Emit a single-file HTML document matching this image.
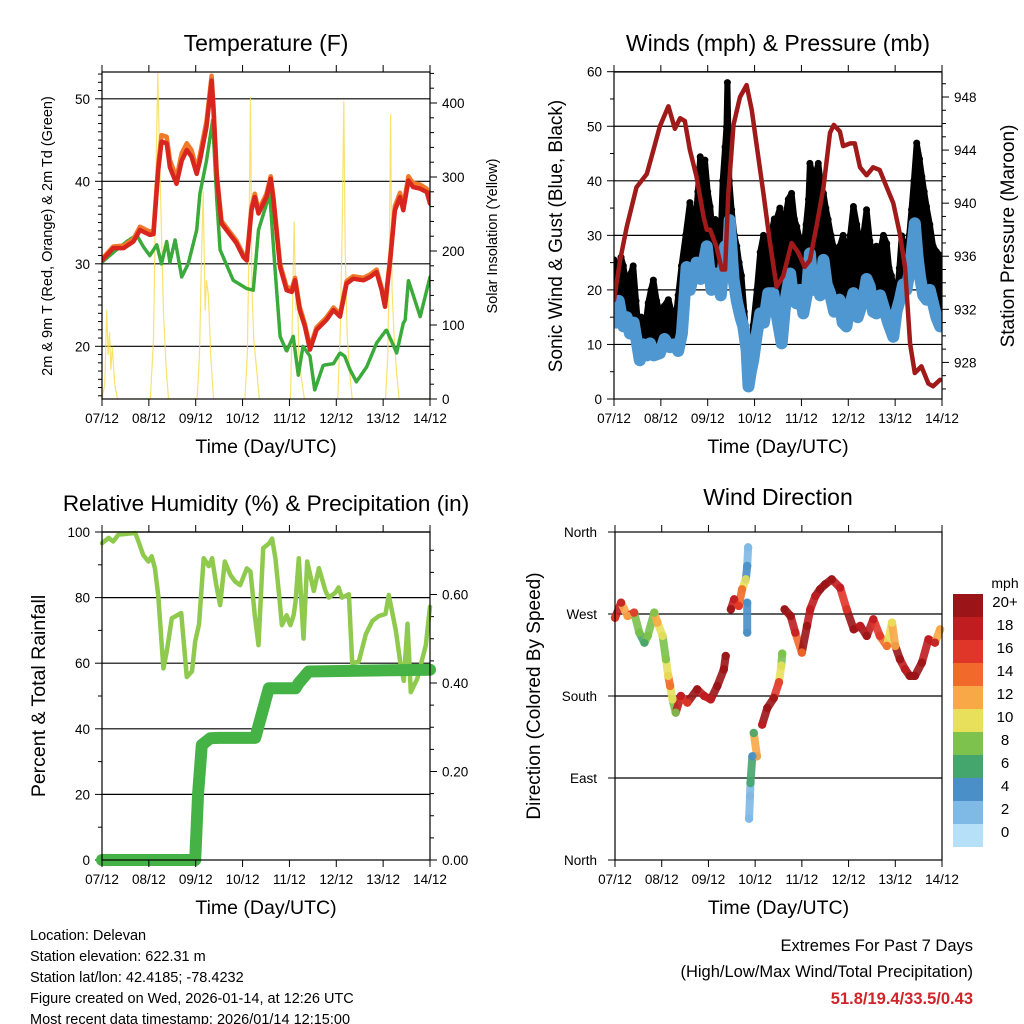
<!DOCTYPE html>
<html><head><meta charset="utf-8"><style>
body{margin:0;background:#fff}
svg{display:block;font-family:"Liberation Sans",sans-serif}
</style></head><body>
<svg id="c" width="1024" height="1024" viewBox="0 0 1024 1024" xmlns="http://www.w3.org/2000/svg"></svg>
<script>
// ---------- data ----------
const dayLabels=["07/12","08/12","09/12","10/12","11/12","12/12","13/12","14/12"];
const tempTimes=[0,0.24,0.46,0.67,0.81,1.02,1.10,1.20,1.27,1.38,1.45,1.59,1.70,1.81,1.91,2.02,2.09,2.23,2.34,2.38,2.45,2.55,2.87,3.02,3.09,3.19,3.26,3.34,3.51,3.60,3.66,3.80,3.94,4.05,4.12,4.22,4.33,4.44,4.58,4.79,4.94,5.08,5.22,5.36,5.58,5.72,5.86,5.97,6.04,6.15,6.25,6.36,6.43,6.54,6.64,6.79,6.93,7.0];
const temp2m=[30.4,31.9,31.9,32.7,34.1,33.5,33.6,41.3,44.8,44.6,41.7,39.7,42.5,43.8,43.0,40.9,42.5,46.6,52.2,48.6,40.5,34.9,32.5,30.8,30.4,36.5,38.1,36.1,38.1,40.3,37.7,29.6,26.8,26.6,28.0,24.4,22.4,19.6,22.0,23.2,24.4,23.6,27.6,28.2,28.0,28.4,29.0,26.8,24.8,30.4,36.5,38.1,36.5,40.1,39.3,39.1,38.7,37.3];
const temp9m=[30.6,32.1,32.2,33.0,34.5,33.9,34.0,42.0,45.6,45.4,42.6,40.4,43.4,44.6,43.8,41.5,43.2,47.3,52.8,49.2,40.9,35.2,32.8,31.1,30.7,36.9,38.5,36.5,38.5,40.6,38.0,30.0,27.2,27.0,28.3,24.8,22.7,19.9,22.3,23.5,24.7,23.9,27.9,28.5,28.3,28.7,29.3,27.1,25.1,30.8,37.0,38.6,37.0,40.6,39.8,39.6,39.1,37.6];
const tdTimes=[0,0.31,0.53,0.74,0.88,1.02,1.17,1.27,1.38,1.45,1.56,1.70,1.84,2.02,2.09,2.23,2.36,2.45,2.52,2.80,3.09,3.23,3.34,3.58,3.69,3.80,3.94,4.08,4.19,4.29,4.44,4.54,4.72,4.94,5.08,5.18,5.29,5.43,5.65,5.86,6.07,6.29,6.43,6.47,6.54,6.79,7.0];
const dewpt=[30.2,31.7,32.7,33.5,32.1,31.0,32.3,30.0,32.7,30.2,32.9,28.4,30.0,34.1,38.5,42.5,47.4,37.7,31.7,28.0,27.0,26.8,34.1,38.5,29.6,21.2,19.4,21.2,16.5,20.0,18.8,14.7,17.7,17.9,19.2,18.8,17.2,15.7,17.5,20.4,22.0,19.2,22.8,23.2,28.0,23.6,28.4,30.4];
const solarTimes=[0,0.06,0.10,0.13,0.16,0.19,0.22,0.27,0.33,1.03,1.10,1.15,1.19,1.22,1.26,1.31,1.37,1.42,2.03,2.08,2.12,2.16,2.20,2.23,2.27,2.32,2.38,3.05,3.10,3.13,3.17,3.20,3.24,3.30,3.36,4.02,4.06,4.10,4.14,4.17,4.20,4.25,4.32,5.03,5.09,5.13,5.16,5.19,5.23,5.28,5.34,6.05,6.10,6.13,6.16,6.19,6.23,6.28,6.34,7.0];
const solar=[0,20,120,60,90,40,70,20,0,0,80,300,440,350,250,120,40,0,0,60,180,280,120,160,140,60,0,0,60,180,407,150,80,40,0,0,100,239,120,160,60,30,0,0,100,250,402,200,90,40,0,0,60,180,384,150,90,40,0,0];
// winds & pressure
const windTimes=[0,0.05,0.10,0.20,0.27,0.34,0.42,0.55,0.62,0.70,0.77,0.85,0.98,1.08,1.19,1.28,1.37,1.45,1.55,1.62,1.70,1.76,1.85,1.98,2.08,2.19,2.28,2.37,2.42,2.47,2.55,2.62,2.70,2.76,2.83,2.87,2.92,2.97,3.05,3.12,3.20,3.29,3.40,3.48,3.58,3.66,3.76,3.83,3.90,3.97,4.04,4.11,4.18,4.25,4.32,4.40,4.47,4.54,4.61,4.70,4.81,4.88,4.96,5.03,5.11,5.20,5.32,5.39,5.46,5.53,5.60,5.68,5.75,5.85,5.96,6.03,6.10,6.17,6.24,6.32,6.42,6.48,6.53,6.60,6.67,6.74,6.81,6.88,6.96];
const wind=[17,14,18,13.3,15,12,14,7.1,10,8,10.2,8,8.4,11,9.5,10,8.8,12,24.2,20,23,25,22,28,20,23,19,28,24,32.8,22,18,15,13.3,9,2.3,5,7.1,12,15.7,14,19.4,19.4,15,10.2,18,23,18,17.5,20,15.7,19,26.7,20,22.4,19,25.5,21,19.4,16,18.2,14,13.3,17,19.4,15,18.2,22,20.6,16,15.7,19,17,14,11.4,16,18.2,21,20,24,32.2,26,22.4,19,18.2,20,17.5,15,13.3];
const gustTimes=[0,0.05,0.09,0.15,0.20,0.26,0.31,0.36,0.41,0.47,0.52,0.58,0.63,0.68,0.73,0.79,0.84,0.91,0.98,1.07,1.16,1.23,1.30,1.37,1.44,1.53,1.62,1.68,1.73,1.79,1.84,1.89,1.94,2.00,2.05,2.11,2.16,2.22,2.27,2.32,2.37,2.40,2.42,2.46,2.51,2.57,2.62,2.67,2.72,2.78,2.83,2.87,2.90,2.94,2.97,3.05,3.12,3.19,3.26,3.31,3.36,3.42,3.47,3.54,3.61,3.67,3.72,3.79,3.85,3.90,3.97,4.04,4.10,4.15,4.18,4.27,4.36,4.42,4.47,4.52,4.57,4.63,4.68,4.75,4.82,4.89,4.96,5.04,5.11,5.18,5.25,5.32,5.39,5.46,5.53,5.60,5.67,5.75,5.82,5.87,5.92,5.98,6.03,6.09,6.14,6.19,6.24,6.30,6.35,6.40,6.46,6.52,6.57,6.62,6.67,6.74,6.81,6.88,6.96];
const gust=[25.5,23,22.6,26,24.4,21,19.6,23,24.4,18,12.8,15,9.7,14,17.6,20,21.8,18,15.7,17,18.2,16,13.3,19,24.4,30,36,33,31.8,38,44.4,40,43.8,38,35.3,30,32.9,31,28,40,46.2,49.9,58,40,34.7,30,28,25,22.6,16,10.4,8,8.6,11,13.5,20,26.9,30,28,26,30.5,33,32.9,35,30.5,34,36.6,37.7,33,31.6,29,26.9,32,36.6,43.2,40,43.2,39,37.7,35,32.9,30,28,27,28,30,25.5,30,35.3,32,28,30,34.7,29,25.5,28,26.7,30,28.5,24,22.6,20,18.3,24,29.9,28,26.3,30,34.7,40,46.9,44,40.8,38,35.3,32,28,27,26.3,25,24.4];
const presTimes=[0,0.13,0.27,0.48,0.70,0.84,0.98,1.16,1.30,1.41,1.51,1.62,1.76,1.91,1.98,2.05,2.19,2.30,2.37,2.44,2.55,2.69,2.83,2.94,3.04,3.19,3.33,3.47,3.61,3.79,3.93,4.07,4.18,4.32,4.47,4.61,4.69,4.82,4.89,5.04,5.14,5.25,5.39,5.53,5.67,5.82,5.96,6.10,6.21,6.32,6.42,6.56,6.71,6.81,6.96];
const pressure=[932.7,935.7,938.2,941.2,942.2,944.0,945.8,947.3,945.6,946.4,946.2,944.0,942.0,939.0,938.0,938.0,936.7,935.0,935.0,940.7,945.9,948.0,948.9,947.0,944.5,940.7,937.0,933.7,934.5,937.0,936.3,935.2,935.7,938.2,941.2,945.3,945.9,945.4,944.3,944.5,944.5,942.7,942.1,942.7,942.5,941.2,940.0,937.7,935.2,929.4,927.2,927.7,926.4,926.2,926.7];
// RH & precip
const rhTimes=[0,0.14,0.24,0.35,0.71,0.78,0.88,0.99,1.06,1.13,1.20,1.31,1.38,1.49,1.69,1.81,1.92,1.99,2.07,2.17,2.28,2.35,2.44,2.52,2.62,2.74,2.84,2.95,3.09,3.17,3.26,3.34,3.44,3.57,3.63,3.70,3.78,3.84,3.94,4.02,4.09,4.13,4.20,4.30,4.38,4.52,4.63,4.77,4.84,4.98,5.05,5.12,5.27,5.34,5.48,5.63,5.77,5.91,6.05,6.12,6.27,6.37,6.44,6.52,6.59,6.73,6.91,7.0];
const rh=[96.6,98.2,97.1,99.2,99.7,97.1,93.0,91.0,92.6,89.0,80.8,58.4,63.5,73.7,75.3,55.8,57.5,66.7,71.8,92.0,89.6,92.0,83.8,77.7,91.0,86.9,84.9,83.8,88.9,87.9,74.6,65.5,95.1,96.6,98.0,92.0,80.8,71.6,74.6,71.6,74.6,78.6,92.0,67.5,91.0,82.0,89.0,82.0,80.0,81.5,83.1,80.0,81.0,60.0,60.5,68.8,72.9,74.4,75.0,80.8,70.0,59.8,54.6,72.0,51.2,55.3,65.5,77.2];
const precipTimes=[0,1.99,2.05,2.13,2.31,2.49,3.27,3.41,3.56,4.13,4.20,4.41,7.0];
const precip=[0,0,0.15,0.26,0.275,0.276,0.276,0.33,0.388,0.388,0.40,0.426,0.43];
// wind direction
const dirTimes=[0,0.13,0.27,0.41,0.52,0.63,0.70,0.84,0.91,1.02,1.09,1.14,1.18,1.23,1.30,1.41,1.55,1.76,1.91,2.05,2.19,2.33,2.37,2.48,2.55,2.65,2.72,2.80,2.83,2.85,2.83,2.83,2.97,3.04,2.94,2.90,2.89,2.87,3.15,3.26,3.40,3.51,3.56,3.58,3.63,3.76,3.86,4.00,4.11,4.18,4.29,4.39,4.50,4.64,4.82,4.96,5.11,5.25,5.39,5.53,5.67,5.82,5.93,6.00,6.10,6.21,6.31,6.42,6.57,6.71,6.85,6.96];
const dirDeg=[265.9,282.4,267.8,271.5,249.5,238.5,245.9,271.5,260.5,245.9,220.3,202.0,191.0,176.3,161.7,180.0,172.7,187.3,180.0,176.3,190.9,209.3,223.9,275.1,286.1,278.8,297.1,308.0,322.7,343.2,282.4,249.5,139.4,113.8,113.8,84.5,69.9,45.3,148.5,166.8,177.8,195.1,213.4,226.6,275.1,267.8,249.5,227.6,256.9,275.1,289.8,297.1,302.6,308.0,298.9,275.1,253.2,256.9,245.9,264.2,245.9,234.9,260.5,234.9,220.3,209.3,202.0,202.0,216.6,242.2,238.5,253.2,238.5];
const dirSpeed=[16,18,12,16,8,7,8,8,12,10,8,10,14,10,8,18,16,20,18,18,20,20,20,20,18,16,14,10,4,2,4,4,6,12,4,6,2,2,18,20,20,16,10,8,20,20,18,14,20,18,18,20,20,20,18,16,20,18,20,18,16,14,10,12,20,18,20,20,20,18,18,12];
const cbLabels=["20+","18","16","14","12","10","8","6","4","2","0"];
const cbColors=["#9b1518","#c01d21","#e0362a","#f26a2b","#f9a848","#e8e05b","#7cc24d","#45a66d","#4a8fc8","#7fb9e6","#b6e0f7"];
</script>
<script>
const NS="http://www.w3.org/2000/svg";
const svg=document.getElementById('c');
function el(tag,attrs,parent,txt){const e=document.createElementNS(NS,tag);for(const k in attrs)e.setAttribute(k,attrs[k]);if(txt!==undefined)e.textContent=txt;(parent||svg).appendChild(e);return e;}
function text(x,y,s,size,anchor,name,extra){const t=el('text',Object.assign({x:x,y:y,'font-size':size,'text-anchor':anchor||'middle',fill:'#000'},extra||{}),svg,s);

return t;}
function vtext(x,y,s,size,name){const t=el('text',{x:0,y:0,'font-size':size,'text-anchor':'middle',transform:`translate(${x},${y}) rotate(-90)`},svg,s);

return t;}

function panel(L,T,R,B,name){
  const g=el('g',{});
  
  
  return {L,T,R,B,g,x:d=>L+(R-L)*d/7};
}
function frame(p,name){
  const r=el('rect',{x:p.L,y:p.T,width:p.R-p.L,height:p.B-p.T,fill:'none',stroke:'#000','stroke-width':1.2},p.g);
  
  
  for(let i=0;i<=7;i++){const x=p.x(i);
    el('line',{x1:x,x2:x,y1:p.B,y2:p.B+7,stroke:'#000'},p.g);
    el('line',{x1:x,x2:x,y1:p.T,y2:p.T-7,stroke:'#000'},p.g);
    text(x,p.B+24,dayLabels[i],13.5,'middle','x-tick-label');
  }
  text((p.L+p.R)/2,p.B+54,'Time (Day/UTC)',19.5,'middle','x-axis-title');
}
function grid(p,y,name){const l=el('line',{x1:p.L,x2:p.R,y1:y,y2:y,stroke:'#000','stroke-width':1.2},p.g);
  
  }
function leftTick(p,y,label,major){el('line',{x1:p.L,x2:p.L-(major?7:4),y1:y,y2:y,stroke:'#000'},p.g);
  if(label!==null)text(p.L-12,y+5,label,13.5,'end','y-tick-label');}
function rightTick(p,y,label,major){el('line',{x1:p.R,x2:p.R+(major?7:4),y1:y,y2:y,stroke:'#000'},p.g);
  if(label!==null)text(p.R+12,y+5,label,13.5,'start','y2-tick-label');}
function poly(p,times,vals,ys,attrs,name){
  const pts=times.map((t,i)=>p.x(t).toFixed(1)+','+ys(vals[i]).toFixed(1)).join(' ');
  const e=el('polyline',Object.assign({points:pts,fill:'none','stroke-linejoin':'round','stroke-linecap':'round'},attrs),p.g);
  
  
  return e;
}

// ---------- Panel 1: Temperature ----------
{
const p=panel(102,72,430,399,'temperature-panel');
const yT=v=>346.3-(v-20)*8.25, yS=v=>399-v*0.74;
for(const v of [20,30,40,50]) grid(p,yT(v),'temp-gridline');
for(let v=14;v<=53;v++){const major=v%10===0; leftTick(p,yT(v),major?String(v):null,major);} 
for(let v=0;v<=440;v+=20){const major=v%100===0; rightTick(p,yS(v),major?String(v):null,major);} 
const cp=el('clipPath',{id:'cp1'});el('rect',{x:p.L,y:p.T,width:p.R-p.L,height:p.B-p.T},cp);
const gc=el('g',{'clip-path':'url(#cp1)'},p.g); const P={...p,g:gc};
poly(P,solarTimes,solar,yS,{stroke:'#f5dc4a','stroke-width':1.2,opacity:0.8},'solar-insolation-line');
poly(P,tdTimes,dewpt,yT,{stroke:'#3aaa3a','stroke-width':3.5,'stroke-dasharray':'3 1.5'},'dewpoint-line');
poly(P,tempTimes,temp9m,yT,{stroke:'#f07a2a','stroke-width':4.5},'temp-9m-line');
poly(P,tempTimes,temp2m,yT,{stroke:'#d8261e','stroke-width':4.5},'temp-2m-line');
frame(p,'temperature-frame');
text(266,51,'Temperature (F)',23,'middle','temperature-title');
vtext(52,236,'2m & 9m T (Red, Orange) & 2m Td (Green)',14.5,'temp-y-axis-title');
vtext(497,236,'Solar Insolation (Yellow)',14.5,'solar-y-axis-title');
}
// ---------- Panel 2: Winds ----------
{
const p=panel(614,72,942,399,'winds-panel');
const yW=v=>399-v*5.455, yP=v=>97-(v-948)*13.27;
for(const v of [10,20,30,40,50,60]) grid(p,yW(v),'wind-gridline');
for(let v=0;v<=60;v+=5){const major=v%10===0; leftTick(p,yW(v),major?String(v):null,major);} 
for(let v=926;v<=950;v++){if(yP(v)<p.T||yP(v)>p.B)continue;const major=v%4===0; rightTick(p,yP(v),major?String(v):null,major);} 
const cp=el('clipPath',{id:'cp2'});el('rect',{x:p.L,y:p.T-6,width:p.R-p.L,height:p.B-p.T+6},cp);
const gc=el('g',{'clip-path':'url(#cp2)'},p.g); const P={...p,g:gc};
const up=gustTimes.map((t,i)=>p.x(t).toFixed(1)+','+yW(gust[i]).toFixed(1));
const lo=windTimes.map((t,i)=>p.x(t).toFixed(1)+','+yW(wind[i]).toFixed(1)).reverse();
const area=el('polygon',{points:up.concat(lo).join(' '),fill:'#000',stroke:'#000','stroke-width':6,'stroke-linejoin':'round'},gc);


gustTimes.forEach((t,i)=>{const c=el('circle',{cx:p.x(t),cy:yW(gust[i]),r:3.5,fill:'#000'},gc);
  
  });
poly(P,windTimes,wind,yW,{stroke:'#4f97d0','stroke-width':12},'sonic-wind-band');
poly(P,presTimes,pressure,yP,{stroke:'#a01a1a','stroke-width':4.5},'pressure-line');
frame(p,'winds-frame');
text(778,51,'Winds (mph) & Pressure (mb)',23,'middle','winds-title');
vtext(562,236,'Sonic Wind & Gust (Blue, Black)',19,'wind-y-axis-title');
vtext(1014,236,'Station Pressure (Maroon)',19,'pressure-y-axis-title');
}
// ---------- Panel 3: RH ----------
{
const p=panel(102,532,430,860,'humidity-panel');
const yR=v=>860-v*3.28, yPr=v=>860-v*442.5;
for(const v of [20,40,60,80,100]) grid(p,yR(v),'rh-gridline');
for(let v=0;v<=100;v+=10){const major=v%20===0; leftTick(p,yR(v),major?String(v):null,major);} 
for(let v=0;v<=0.74;v+=0.05){const k=Math.round(v*100);const major=k%20===0; rightTick(p,yPr(v),major?(k/100).toFixed(2):null,major);} 
poly(p,rhTimes,rh,yR,{stroke:'#8fca4f','stroke-width':4.5},'relative-humidity-line');
poly(p,precipTimes,precip,yPr,{stroke:'#45b245','stroke-width':12},'precipitation-line');
frame(p,'humidity-frame');
text(266,511,'Relative Humidity (%) & Precipitation (in)',22.5,'middle','humidity-title');
vtext(45,696,'Percent & Total Rainfall',19.5,'rh-y-axis-title');
}
// ---------- Panel 4: Wind direction ----------
{
const p=panel(615,532,942,860,'wind-direction-panel');
const yD=v=>860-v*328/360;
const dl=['North','East','South','West','North'];
[90,180,270].forEach(v=>grid(p,yD(v),'direction-gridline'));
[0,90,180,270,360].forEach((v,i)=>{leftTick(p,yD(v),null,true);text(p.L-18,yD(v)+5,dl[i],13.5,'end','direction-tick-label');});
const spBin=s=>Math.max(0,Math.min(10,Math.floor(s/2)));
for(let i=1;i<dirTimes.length;i++){
  const dt=Math.abs(dirTimes[i]-dirTimes[i-1]), dd=Math.abs(dirDeg[i]-dirDeg[i-1]);
  if(dt<0.25&&dd<45){const s=el('line',{x1:p.x(dirTimes[i-1]),y1:yD(dirDeg[i-1]),x2:p.x(dirTimes[i]),y2:yD(dirDeg[i]),stroke:cbColors[10-spBin(dirSpeed[i])],'stroke-width':8,'stroke-linecap':'round',opacity:0.9},p.g);
  
  }
}
dirTimes.forEach((t,i)=>{const c=el('circle',{cx:p.x(t),cy:yD(dirDeg[i]),r:4.2,fill:cbColors[10-spBin(dirSpeed[i])],opacity:0.9},p.g);
  
  });
frame(p,'direction-frame');
text(778,505,'Wind Direction',23,'middle','direction-title');
vtext(540,696,'Direction (Colored By Speed)',19,'direction-y-axis-title');
const lg=el('g',{});


cbColors.forEach((c,i)=>{el('rect',{x:953,y:594+i*23,width:30,height:23,fill:c},lg);
  text(1005,607+i*23,cbLabels[i],15,'middle','colorbar-label');});
text(1005,588,'mph',14,'middle','colorbar-title');
}
// ---------- footer ----------
['Location: Delevan','Station elevation: 622.31 m','Station lat/lon: 42.4185; -78.4232','Figure created on Wed, 2026-01-14, at 12:26 UTC','Most recent data timestamp: 2026/01/14 12:15:00'].forEach((s,i)=>text(30,940+i*21,s,14.5,'start','station-info-line'));
text(973,951,'Extremes For Past 7 Days',16.5,'end','extremes-title');
text(973,977,'(High/Low/Max Wind/Total Precipitation)',16.5,'end','extremes-subtitle');
text(973,1004,'51.8/19.4/33.5/0.43',16.5,'end','extremes-values',{fill:'#d0242a','font-weight':'bold'});
</script>
</body></html>
